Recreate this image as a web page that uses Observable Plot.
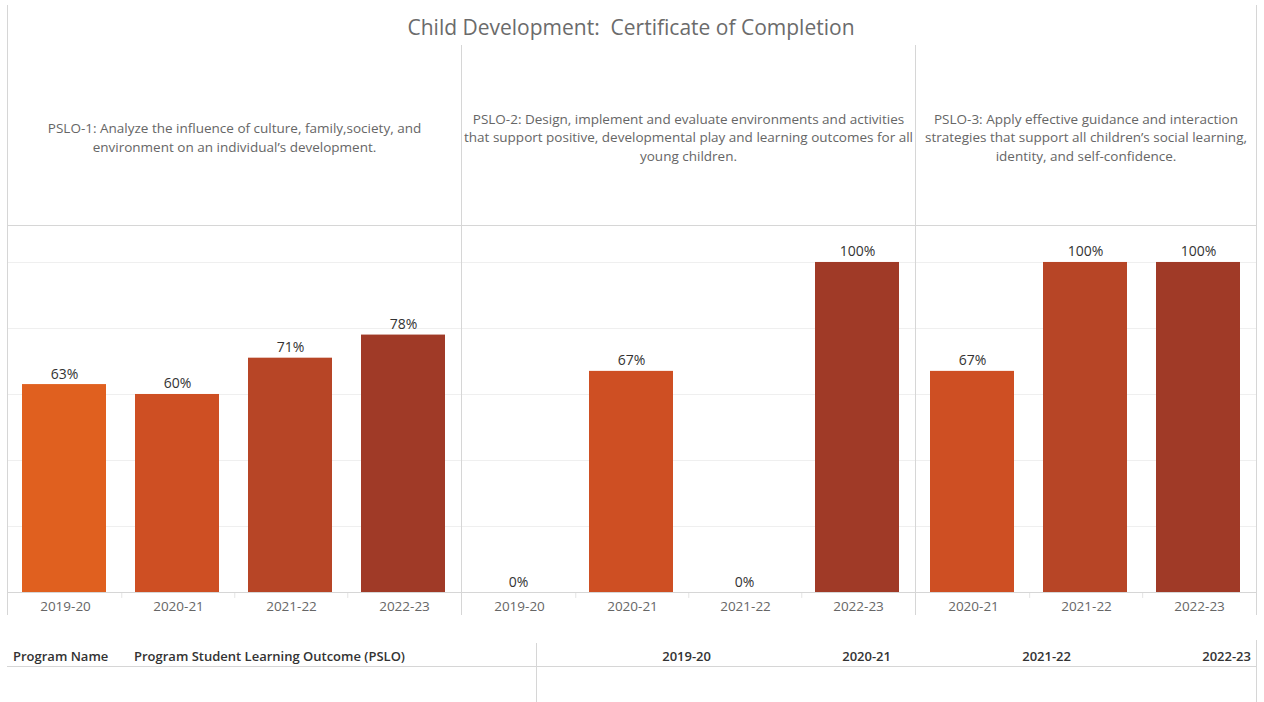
<!DOCTYPE html>
<html>
<head>
<meta charset="utf-8">
<script src="https://cdn.jsdelivr.net/npm/d3@7"></script>
<script src="https://cdn.jsdelivr.net/npm/@observablehq/plot@0.6"></script>
<style>
  html, body { margin: 0; padding: 0; background: #fff; }
  #root { position: relative; width: 1264px; height: 702px; font-family: "Open Sans", Lato, sans-serif; overflow: hidden; }
  .title { position: absolute; left: 0; width: 1262px; top: 13px; text-align: center; font-size: 21px; color: #6b6b6b; white-space: pre; line-height: 28px; }
  .vline { position: absolute; width: 1px; background: #d6d6d6; }
  .hline { position: absolute; height: 1px; background: #d6d6d6; }
  .panel { position: absolute; top: 45px; }
  .th { position: absolute; top: 647px; font-size: 13px; font-weight: 600; color: #333; white-space: nowrap; line-height: 18px; }
</style>
</head>
<body>
<div id="root">
  <div class="title" id="title"></div>
  <div id="panels"></div>
  <div class="vline" style="left:7px; top:5px; height:610px;"></div>
  <div class="vline" style="left:1256px; top:5px; height:610px;"></div>
  <div class="vline" style="left:461px; top:45px; height:570px;"></div>
  <div class="vline" style="left:915px; top:45px; height:570px;"></div>
  <div class="hline" style="left:7px; top:225px; width:1250px;"></div>
  <div class="hline" style="left:7px; top:666px; width:1250px;"></div>
  <div class="vline" style="left:536px; top:643px; height:59px;"></div>
  <div class="vline" style="left:1256px; top:640px; height:62px;"></div>
  <div id="table"></div>
</div>
<script>
const titleText = "Child Development:  Certificate of Completion";
const allYears = ["2019-20", "2020-21", "2021-22", "2022-23"];
const yearColors = ["#e0601f", "#ce4f23", "#b74526", "#a03a27"];
const psloHeaders = [
  "PSLO-1: Analyze the influence of culture, family,society, and\nenvironment on an individual\u2019s development.",
  "PSLO-2: Design, implement and evaluate environments and activities\nthat support positive, developmental play and learning outcomes for all\nyoung children.",
  "PSLO-3: Apply effective guidance and interaction\nstrategies that support all children\u2019s social learning,\nidentity, and self-confidence."
];
const pslo1Years = ["2019-20", "2020-21", "2021-22", "2022-23"];
const pslo1Values = [63, 60, 71, 78];
const pslo2Years = ["2019-20", "2020-21", "2021-22", "2022-23"];
const pslo2Values = [0, 67, 0, 100];
const pslo3Years = ["2020-21", "2021-22", "2022-23"];
const pslo3Values = [67, 100, 100];
const gridValues = [20, 40, 60, 80, 100];
const tableHeaders = ["Program Name", "Program Student Learning Outcome (PSLO)"];
const tableYears = ["2019-20", "2020-21", "2021-22", "2022-23"];

document.getElementById("title").textContent = titleText;

const panels = [
  {left: 7, width: 454, years: pslo1Years, values: pslo1Values, header: psloHeaders[0]},
  {left: 461, width: 454, years: pslo2Years, values: pslo2Values, header: psloHeaders[1]},
  {left: 915, width: 341, years: pslo3Years, values: pslo3Values, header: psloHeaders[2]}
];

const container = document.getElementById("panels");
for (const p of panels) {
  const data = p.years.map((y, i) => ({year: y, value: p.values[i]}));
  const step = p.width / p.years.length;
  const chart = Plot.plot({
    width: p.width,
    height: 570,
    marginTop: 180,
    marginBottom: 23,
    marginLeft: 0,
    marginRight: 0,
    style: {fontFamily: '"Open Sans", Lato, sans-serif', fontSize: "13.5px", color: "#666", background: "transparent", overflow: "visible"},
    x: {domain: p.years, paddingInner: 0.26, paddingOuter: 0.13, label: null, tickSize: 0, tickPadding: 9},
    y: {domain: [0, 111.2], axis: null},
    color: {domain: allYears, range: yearColors},
    marks: [
      Plot.ruleY(gridValues, {stroke: "#efefef"}),
      Plot.barY(data, {x: "year", y: "value", fill: "year", dx: -1}),
      Plot.ruleX(p.years.slice(1), {x: d => d, y1: 0, y2: -1.8, dx: -step / 2, stroke: "#e4e4e4", clip: false}),
      Plot.ruleY([0], {stroke: "#d6d6d6"}),
      Plot.text(data, {x: "year", y: "value", text: d => d.value + "%", lineAnchor: "bottom", dy: -6, dx: -1, fill: "#333", fontSize: 14}),
      Plot.text([p.header], {text: d => d, frameAnchor: "top", dy: -89, lineAnchor: "middle", lineHeight: 1.37, fill: "#666", fontSize: 13.5})
    ]
  });
  const div = document.createElement("div");
  div.className = "panel";
  div.style.left = p.left + "px";
  div.appendChild(chart);
  container.appendChild(div);
}

const table = document.getElementById("table");
const headerLefts = [13, 134];
tableHeaders.forEach((t, i) => {
  const d = document.createElement("div");
  d.className = "th";
  d.style.left = headerLefts[i] + "px";
  d.textContent = t;
  table.appendChild(d);
});
const yearRights = [711, 891, 1071, 1251];
tableYears.forEach((t, i) => {
  const d = document.createElement("div");
  d.className = "th";
  d.style.right = (1264 - yearRights[i]) + "px";
  d.textContent = t;
  table.appendChild(d);
});
</script>
</body>
</html>
